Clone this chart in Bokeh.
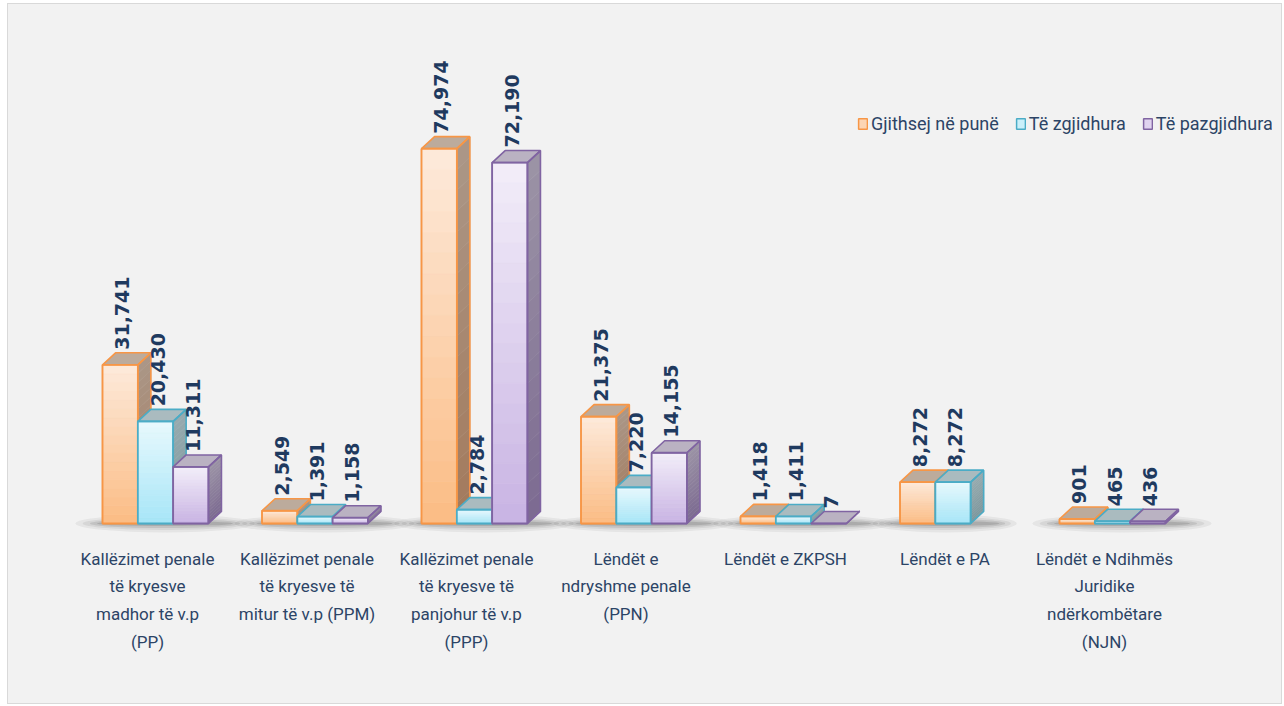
import math
from bokeh.plotting import figure
from bokeh.models import ColumnDataSource, FixedTicker, Legend, LegendItem, Range1d
from bokeh.core.properties import value
from bokeh.embed import file_html
from bokeh.resources import INLINE

# ---------------- data ----------------
categories = [
    "Kallëzimet penale\ntë kryesve\nmadhor të v.p\n(PP)",
    "Kallëzimet penale\ntë kryesve të\nmitur të v.p (PPM)",
    "Kallëzimet penale\ntë kryesve të\npanjohur të v.p\n(PPP)",
    "Lëndët e\nndryshme penale\n(PPN)",
    "Lëndët e ZKPSH",
    "Lëndët e PA",
    "Lëndët e Ndihmës\nJuridike\nndërkombëtare\n(NJN)",
]
series_names = ["Gjithsej në punë", "Të zgjidhura", "Të pazgjidhura"]
gjithsej = [31741, 2549, 74974, 21375, 1418, 8272, 901]
zgjidhura = [20430, 1391, 2784, 7220, 1411, 8272, 465]
pazgjidhura = [11311, 1158, 72190, 14155, 7, None, 436]
series_values = [gjithsej, zgjidhura, pazgjidhura]

# ---------------- styles ----------------
styles = [
    dict(line="#f79646", ftop="#fdeadb", fbot="#fbbc84", stop="#ab9788", sbot="#a37a5c", top="#bcab9c"),
    dict(line="#4bacc6", ftop="#e8f9fd", fbot="#a6e5f7", stop="#97abaf", sbot="#7d979d", top="#aabbbf"),
    dict(line="#8064a2", ftop="#f3eef9", fbot="#c8b3e3", stop="#9c94a6", sbot="#7c6a91", top="#bab2c2"),
]
BG = "#f2f2f2"
LABEL_COLOR = "#1f3a5f"
CAT_COLOR = "#2c4466"
CAT_FONT = "Roboto"

# ---------------- layout (page pixels) ----------------
ORIGIN_X, ORIGIN_Y = 8, 4
W, H = 1275, 701
FRAME_L, FRAME_R, FRAME_T, FRAME_B = 40, 1272, 40, 535
CAT0_PX, CAT_STEP_PX = 147, 159.5
BASE_PX = 523
PX_PER_1000 = 5.0
BAR_W_PX = 35.3
DX_PX, DY_PX = 13, 12
BAR_SHIFT_PX = 8
LABEL_GAP_PX = 15
NSL = 18

xu = 1.0 / CAT_STEP_PX          # data units per px (x)
yu = 1000.0 / PX_PER_1000       # data units per px (y)

x_start = (FRAME_L - CAT0_PX) * xu
x_end = (FRAME_R - CAT0_PX) * xu
y_start = -(FRAME_B - BASE_PX) * yu
y_end = (BASE_PX - FRAME_T) * yu

p = figure(width=W, height=H,
           x_range=Range1d(x_start, x_end), y_range=Range1d(y_start, y_end),
           output_backend="svg", toolbar_location=None, y_axis_location=None,
           min_border_left=FRAME_L - ORIGIN_X, min_border_right=ORIGIN_X + W - FRAME_R,
           min_border_top=FRAME_T - ORIGIN_Y, min_border_bottom=ORIGIN_Y + H - FRAME_B)
p.background_fill_color = BG
p.border_fill_color = BG
p.outline_line_color = None
p.xgrid.grid_line_color = None
p.ygrid.grid_line_color = None
p.styles = {"border": "1px solid #d9d9d9", "margin-left": "7px", "margin-top": "3px",
            "background-color": BG}

ax = p.xaxis[0]
ax.ticker = FixedTicker(ticks=list(range(len(categories))))
ax.major_label_overrides = {i: c for i, c in enumerate(categories)}
ax.axis_line_color = None
ax.major_tick_line_color = None
ax.minor_tick_line_color = None
ax.major_tick_out = 0
ax.major_label_standoff = 13
ax.major_label_text_font = CAT_FONT
ax.major_label_text_font_size = "17px"
ax.major_label_text_color = CAT_COLOR
ax.major_label_text_line_height = 1.39
ax.major_label_text_align = "center"


def hex2rgb(h):
    h = h.lstrip("#")
    return [int(h[i:i + 2], 16) for i in (0, 2, 4)]


def lerp(c1, c2, t):
    a, b = hex2rgb(c1), hex2rgb(c2)
    return "#%02x%02x%02x" % tuple(int(round(a[i] + (b[i] - a[i]) * t)) for i in range(3))


bw = BAR_W_PX * xu
dx = DX_PX * xu
dy = DY_PX * yu
shift = BAR_SHIFT_PX * xu

# ---------------- shadows ----------------
sh = dict(x=[], w=[])
for i in range(len(categories)):
    nb = sum(1 for s in series_values if s[i] is not None)
    left = i + shift - 1.5 * bw
    span = nb * bw + dx
    sh["x"].append(left + span / 2 + 3 * xu)
    sh["w"].append(span + 60 * xu)
for fw, fh, a in [(1.0, 18, 0.06), (0.92, 13, 0.08), (0.84, 9, 0.11), (0.76, 5, 0.14)]:
    p.ellipse(x=sh["x"], y=[0] * len(sh["x"]), width=[w * fw for w in sh["w"]],
              height=fh * yu, fill_color="#202020", fill_alpha=a, line_color=None)

# ---------------- 3D bars ----------------
legend_items = []
for k, vals in enumerate(series_values):
    st = styles[k]
    fr = dict(l=[], r=[], b=[], t=[], c=[])
    sd = dict(xs=[], ys=[], c=[])
    tp = dict(xs=[], ys=[])
    ol = dict(l=[], r=[], b=[], t=[])
    so = dict(xs=[], ys=[])
    lab = dict(x=[], y=[], text=[])
    for i, v in enumerate(vals):
        if v is None:
            continue
        x0 = i + shift - 1.5 * bw + k * bw
        x1 = x0 + bw
        for j in range(NSL):
            yb = v * j / NSL
            yt = v * (j + 1) / NSL
            t = (j + 0.5) / NSL
            fr["l"].append(x0); fr["r"].append(x1)
            fr["b"].append(yb); fr["t"].append(yt)
            fr["c"].append(lerp(st["fbot"], st["ftop"], t))
            sd["xs"].append([x1, x1 + dx, x1 + dx, x1])
            sd["ys"].append([yb, yb + dy, yt + dy, yt])
            sd["c"].append(lerp(st["sbot"], st["stop"], t))
        tp["xs"].append([x0, x1, x1 + dx, x0 + dx])
        tp["ys"].append([v, v, v + dy, v + dy])
        ol["l"].append(x0); ol["r"].append(x1); ol["b"].append(0); ol["t"].append(v)
        so["xs"].append([x1, x1 + dx, x1 + dx, x1])
        so["ys"].append([0, dy, v + dy, v])
        lab["x"].append((x0 + x1) / 2 + 2 * xu)
        lab["y"].append(v + LABEL_GAP_PX * yu)
        lab["text"].append(f"{v:,}")
    # base front face (also the legend glyph)
    base = p.quad(left="l", right="r", bottom="b", top="t",
                  fill_color=lerp(st["ftop"], st["fbot"], 0.45), line_color=st["line"],
                  line_width=1.5, source=ColumnDataSource(ol))
    p.quad(left="l", right="r", bottom="b", top="t", fill_color="c", line_color="c",
           line_width=0.6, source=ColumnDataSource(fr))
    p.patches(xs="xs", ys="ys", fill_color="c", line_color="c", line_width=0.6,
              source=ColumnDataSource(sd))
    p.patches(xs="xs", ys="ys", fill_color=st["top"], line_color=st["line"], line_width=1.6,
              source=ColumnDataSource(tp))
    p.patches(xs="xs", ys="ys", fill_color=None, line_color=st["line"], line_width=1.6,
              source=ColumnDataSource(so))
    p.quad(left="l", right="r", bottom="b", top="t", fill_color=None,
           line_color=st["line"], line_width=1.8, source=ColumnDataSource(ol))
    p.text(x="x", y="y", text="text", angle=math.pi / 2, text_align="left",
           text_baseline="middle", text_font=value("DejaVu Sans"), text_font_style="bold",
           text_font_size="19px", text_color=LABEL_COLOR, source=ColumnDataSource(lab))
    legend_items.append(LegendItem(label=series_names[k], renderers=[base]))

legend = Legend(items=legend_items, orientation="horizontal",
                location=(857 - FRAME_L, FRAME_B - 134),
                glyph_width=11, glyph_height=13, label_standoff=3, spacing=16,
                padding=0, margin=0, border_line_color=None, background_fill_alpha=0,
                label_text_font=CAT_FONT, label_text_font_size="18px",
                label_text_color=CAT_COLOR)
p.add_layout(legend)

open("out.html", "w").write(file_html(p, INLINE))
